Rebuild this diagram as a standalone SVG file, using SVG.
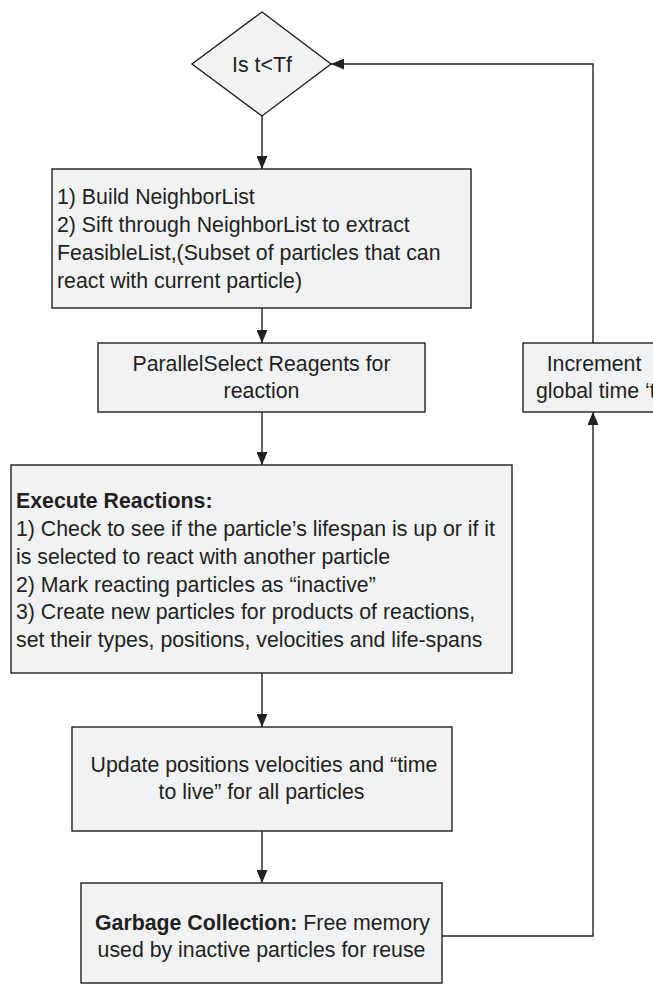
<svg xmlns="http://www.w3.org/2000/svg" width="653" height="984" viewBox="0 0 653 984">
  <style>
    .box { fill: #f1f2f4; stroke: #231f20; stroke-width: 1.4; }
    .t { font-family: "Liberation Sans", Arial, sans-serif; font-size: 21.3px; fill: #231f20; }
    .c { text-anchor: middle; }
    .b { font-weight: bold; }
    .ln { fill: none; stroke: #231f20; stroke-width: 1.4; }
  </style>
  <defs>
    <marker id="ah" viewBox="0 0 13 11" refX="13" refY="5.5" markerWidth="13" markerHeight="11" markerUnits="userSpaceOnUse" orient="auto">
      <path d="M0,0 L13,5.5 L0,11 z" fill="#231f20"/>
    </marker>
  </defs>
  <rect width="653" height="984" fill="#ffffff"/>

  <g id="decision">
    <polygon class="box" points="262,12 331,64 262,116 192,64"/>
    <text class="t c" x="262" y="71.5">Is t&lt;Tf</text>
  </g>

  <g id="neighbor">
    <rect class="box" x="52" y="169" width="419" height="139"/>
    <text class="t" x="57" y="204">1) Build NeighborList</text>
    <text class="t" x="57" y="232">2) Sift through NeighborList to extract</text>
    <text class="t" x="57" y="260">FeasibleList,(Subset of particles that can</text>
    <text class="t" x="57" y="288">react with current particle)</text>
  </g>

  <g id="select">
    <rect class="box" x="98" y="343" width="327" height="69"/>
    <text class="t c" x="261.5" y="371">ParallelSelect Reagents for</text>
    <text class="t c" x="261.5" y="398">reaction</text>
  </g>

  <g id="increment">
    <rect class="box" x="523" y="343" width="140" height="69"/>
    <text class="t c" x="594" y="371">Increment</text>
    <text class="t" x="536" y="398">global time ‘t’</text>
  </g>

  <g id="execute">
    <rect class="box" x="11" y="465" width="501" height="208"/>
    <text class="t b" x="16" y="508">Execute Reactions:</text>
    <text class="t" x="16" y="536">1) Check to see if the particle’s lifespan is up or if it</text>
    <text class="t" x="16" y="564">is selected to react with another particle</text>
    <text class="t" x="16" y="591.5">2) Mark reacting particles as “inactive”</text>
    <text class="t" x="16" y="619">3) Create new particles for products of reactions,</text>
    <text class="t" x="16" y="646.5">set their types, positions, velocities and life-spans</text>
  </g>

  <g id="update">
    <rect class="box" x="72" y="727" width="380" height="104"/>
    <text class="t c" x="264" y="772">Update positions velocities and “time</text>
    <text class="t c" x="261.5" y="799">to live” for all particles</text>
  </g>

  <g id="garbage">
    <rect class="box" x="81" y="883" width="361" height="100"/>
    <text class="t c" x="262.5" y="930"><tspan class="b">Garbage Collection:</tspan> Free memory</text>
    <text class="t c" x="261.5" y="957">used by inactive particles for reuse</text>
  </g>

  <g id="connectors">
    <line class="ln" x1="262" y1="116" x2="262" y2="169" marker-end="url(#ah)"/>
    <line class="ln" x1="262" y1="308" x2="262" y2="343" marker-end="url(#ah)"/>
    <line class="ln" x1="262" y1="412" x2="262" y2="465" marker-end="url(#ah)"/>
    <line class="ln" x1="262" y1="673" x2="262" y2="727" marker-end="url(#ah)"/>
    <line class="ln" x1="262" y1="831" x2="262" y2="883" marker-end="url(#ah)"/>
    <polyline class="ln" points="442,936 593,936 593,412" marker-end="url(#ah)"/>
    <polyline class="ln" points="593,343 593,64 331,64" marker-end="url(#ah)"/>
  </g>
</svg>
